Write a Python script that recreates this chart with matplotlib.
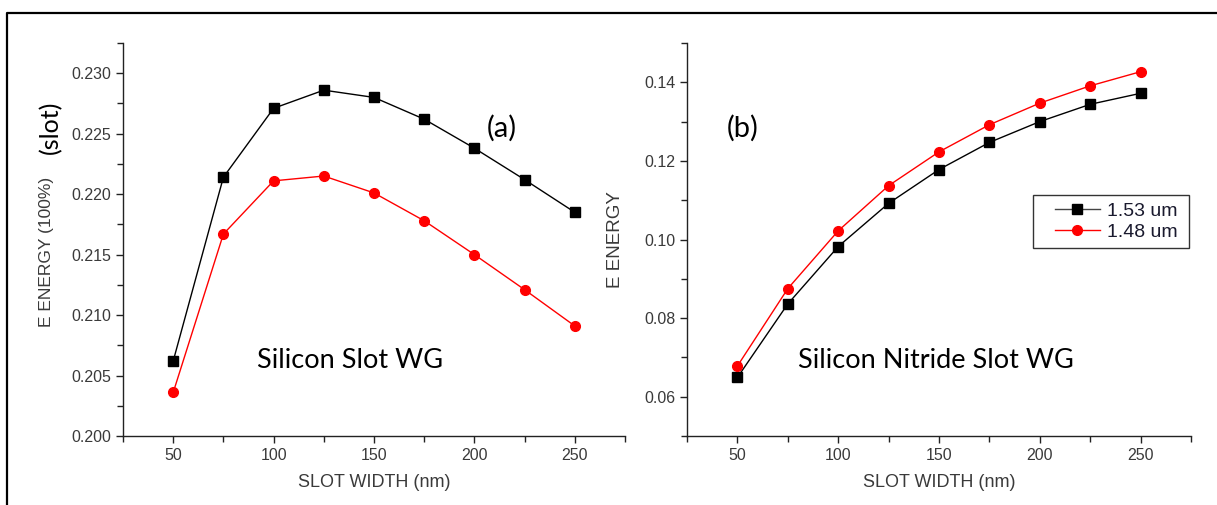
import matplotlib
matplotlib.use("Agg")
import matplotlib.pyplot as plt
from matplotlib.lines import Line2D
from matplotlib.patches import Rectangle
from matplotlib.ticker import MultipleLocator, FormatStrFormatter

plt.rcParams["font.family"] = ["Liberation Sans", "DejaVu Sans"]

slot_width = [50, 75, 100, 125, 150, 175, 200, 225, 250]

# (a) silicon slot waveguide
si_153 = [0.2062, 0.2214, 0.2271, 0.2286, 0.2280, 0.2262, 0.2238, 0.2212, 0.2185]
si_148 = [0.2036, 0.2167, 0.2211, 0.2215, 0.2201, 0.2178, 0.2150, 0.2121, 0.2091]

# (b) silicon nitride slot waveguide
sin_153 = [0.0649, 0.0836, 0.0982, 0.1092, 0.1178, 0.1247, 0.1300, 0.1344, 0.1372]
sin_148 = [0.0678, 0.0875, 0.1022, 0.1137, 0.1223, 0.1292, 0.1347, 0.1391, 0.1427]

W, H = 1217, 505
fig = plt.figure(figsize=(W / 100, H / 100), dpi=100)

tick_col = "#3a3a3a"
ax_a = fig.add_axes([123 / W, 69 / H, 502 / W, 393 / H])
ax_b = fig.add_axes([687 / W, 69 / H, 504 / W, 393 / H])

for ax in (ax_a, ax_b):
    for s in ("top", "right"):
        ax.spines[s].set_visible(False)
    for s in ("left", "bottom"):
        ax.spines[s].set_color("#222222")
        ax.spines[s].set_linewidth(1.0)
    ax.set_xlim(25, 275)
    ax.xaxis.set_major_locator(MultipleLocator(50))
    ax.xaxis.set_minor_locator(MultipleLocator(25))
    ax.tick_params(which="both", direction="out", color="#222222", labelcolor=tick_col,
                   labelsize=11.5, length=5, width=1.0)
    ax.tick_params(which="minor", length=4)
    ax.set_xlabel("SLOT WIDTH (nm)", fontsize=13, color=tick_col, labelpad=8)

# panel (a)
ax_a.plot(slot_width, si_153, color="black", lw=1.0, marker="s", markersize=7, label="1.53 um")
ax_a.plot(slot_width, si_148, color="red", lw=1.0, marker="o", markersize=7, label="1.48 um")
ax_a.set_ylim(0.2, 0.2325)
ax_a.yaxis.set_major_locator(MultipleLocator(0.005))
ax_a.yaxis.set_minor_locator(MultipleLocator(0.0025))
ax_a.yaxis.set_major_formatter(FormatStrFormatter("%.3f"))
ax_a.text(0.725, 0.784, "(a)", fontsize=21, family="Lato",
          transform=ax_a.transAxes, va="center")
ax_a.text(0.453, 0.193, "Silicon Slot WG", fontsize=19.5, family="Lato",
          transform=ax_a.transAxes, ha="center", va="center")

# panel (b)
ax_b.plot(slot_width, sin_153, color="black", lw=1.0, marker="s", markersize=7, label="1.53 um")
ax_b.plot(slot_width, sin_148, color="red", lw=1.0, marker="o", markersize=7, label="1.48 um")
ax_b.set_ylim(0.05, 0.15)
ax_b.yaxis.set_major_locator(MultipleLocator(0.02))
ax_b.yaxis.set_minor_locator(MultipleLocator(0.01))
ax_b.yaxis.set_major_formatter(FormatStrFormatter("%.2f"))
ax_b.text(0.079, 0.784, "(b)", fontsize=21, family="Lato",
          transform=ax_b.transAxes, va="center")
ax_b.text(0.494, 0.193, "Silicon Nitride Slot WG", fontsize=19.5, family="Lato",
          transform=ax_b.transAxes, ha="center", va="center")
ax_b.set_ylabel("E ENERGY", fontsize=13.5, color=tick_col, labelpad=14)

leg = ax_b.legend(loc="upper left", bbox_to_anchor=(1055 / W, (H - 202) / H),
                  bbox_transform=fig.transFigure, frameon=False, fontsize=14,
                  handlelength=2.3, borderpad=0, borderaxespad=0,
                  labelspacing=0.2, handletextpad=0.35)
for t in leg.get_texts():
    t.set_color("#1a1a2e")
for h in leg.legend_handles:
    if h.get_color() == "black":
        h.set_color("#444444")
        h.set_markerfacecolor("black")
        h.set_markeredgecolor("black")
fig.add_artist(Rectangle((1033 / W, (H - 248) / H), 156 / W, 53 / H,
                         transform=fig.transFigure, fill=False,
                         edgecolor="#333333", lw=1.0))

# y label of (a): two styles
fig.text(47 / W, 1 - 252 / H, "E ENERGY (100%)", rotation=90, fontsize=12.5,
         color=tick_col, ha="center", va="center")
fig.text(51 / W, 1 - 127 / H, "(slot)", rotation=90, fontsize=18, family="Lato",
         color="black", ha="center", va="center")

# outer frame (left and top edges)
fig.add_artist(Line2D([7 / W, 7 / W, 1.0], [0.0, 1 - 13 / H, 1 - 13 / H],
                      transform=fig.transFigure, color="black", lw=1.6))

fig.savefig("out.png", dpi=100)
